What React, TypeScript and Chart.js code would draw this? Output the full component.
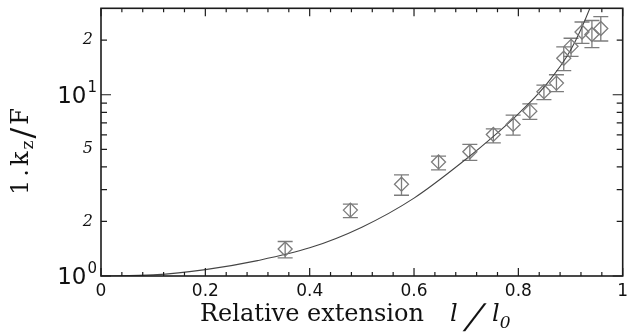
import React, { useEffect, useRef } from "react";
import { Chart, registerables } from "chart.js";

Chart.register(...registerables);

// Measured stiffness ratio against relative extension
const extension = [0.353, 0.478, 0.576, 0.647, 0.707, 0.752, 0.79, 0.822, 0.849, 0.873, 0.887, 0.901, 0.922, 0.941, 0.958];
const stiffness = [1.41, 2.31, 3.21, 4.26, 4.85, 6.04, 6.86, 8.12, 10.4, 11.6, 15.9, 18.5, 22.2, 21.5, 23.2];
const stiffnessLow = [1.26, 2.1, 2.79, 3.85, 4.35, 5.43, 5.99, 7.31, 9.41, 10.4, 13.6, 16.3, 19.2, 18.2, 19.8];
const stiffnessHigh = [1.55, 2.49, 3.61, 4.59, 5.33, 6.49, 7.72, 8.9, 11.3, 12.9, 18.4, 20.5, 25.2, 25.7, 27.0];

// Model curve
const modelX = [0, 0.1, 0.2, 0.3, 0.4, 0.5, 0.6, 0.7, 0.75, 0.8, 0.85, 0.9, 0.94, 0.955];
const modelY = [1.0, 1.014, 1.084, 1.216, 1.43, 1.86, 2.69, 4.42, 5.82, 7.85, 11.09, 17.6, 31.5, 42];

// Axes
const xMajorTicks = [0, 0.2, 0.4, 0.6, 0.8, 1];
const xTickLabels = ["0", "0.2", "0.4", "0.6", "0.8", "1"];
const xMinorStep = 0.04;
const yDecades = [1, 10];
const yDecadeExponents = ["0", "1"];
const yMinorTicks = [2, 3, 4, 5, 6, 7, 8, 9, 20];
const yMinorLabelled = [2, 5, 20];
const yMinorLabels = ["2", "5", "2"];

const AXIS = "#1c1c1c";
const TEXT = "#111111";
const MARK = "#7c7c7c";
const CURVE = "#454545";

const SANS = '"DejaVu Sans", sans-serif';
const SERIF = '"DejaVu Serif", serif';

const frameAxes = {
  id: "frameAxes",
  beforeDatasetsDraw(chart: any) {
    const { ctx, scales } = chart;
    const xs = scales.x;
    const ys = scales.y;
    ctx.save();
    ctx.strokeStyle = MARK;
    ctx.lineWidth = 1.3;
    for (let i = 0; i < extension.length; i++) {
      const px = xs.getPixelForValue(extension[i]);
      const lo = ys.getPixelForValue(stiffnessLow[i]);
      const hi = ys.getPixelForValue(stiffnessHigh[i]);
      ctx.beginPath();
      ctx.moveTo(px, lo);
      ctx.lineTo(px, hi);
      ctx.moveTo(px - 7.5, lo);
      ctx.lineTo(px + 7.5, lo);
      ctx.moveTo(px - 7.5, hi);
      ctx.lineTo(px + 7.5, hi);
      ctx.stroke();
    }
    ctx.restore();
  },
  afterDraw(chart: any) {
    const { ctx, chartArea: a, scales } = chart;
    const xs = scales.x;
    const ys = scales.y;
    ctx.save();
    ctx.strokeStyle = AXIS;
    ctx.lineWidth = 1.6;
    ctx.strokeRect(a.left, a.top, a.right - a.left, a.bottom - a.top);

    ctx.lineWidth = 1.2;
    ctx.beginPath();
    // x ticks, bottom and top
    const nMinor = Math.round(1 / xMinorStep);
    for (let k = 1; k < nMinor; k++) {
      const v = k * xMinorStep;
      if (xMajorTicks.some((m) => Math.abs(m - v) < 1e-6)) continue;
      const px = xs.getPixelForValue(v);
      ctx.moveTo(px, a.bottom);
      ctx.lineTo(px, a.bottom - 4);
      ctx.moveTo(px, a.top);
      ctx.lineTo(px, a.top + 4);
    }
    xMajorTicks.forEach((v) => {
      const px = xs.getPixelForValue(v);
      ctx.moveTo(px, a.bottom);
      ctx.lineTo(px, a.bottom - 8);
      ctx.moveTo(px, a.top);
      ctx.lineTo(px, a.top + 8);
    });
    // y ticks, left and right
    yDecades.forEach((v) => {
      const py = ys.getPixelForValue(v);
      ctx.moveTo(a.left, py);
      ctx.lineTo(a.left + 10, py);
      ctx.moveTo(a.right, py);
      ctx.lineTo(a.right - 10, py);
    });
    yMinorTicks.forEach((v) => {
      const py = ys.getPixelForValue(v);
      ctx.moveTo(a.left, py);
      ctx.lineTo(a.left + 6, py);
      ctx.moveTo(a.right, py);
      ctx.lineTo(a.right - 6, py);
    });
    ctx.stroke();

    ctx.fillStyle = TEXT;
    // x tick labels
    ctx.font = `17px ${SANS}`;
    ctx.textAlign = "center";
    ctx.textBaseline = "alphabetic";
    xMajorTicks.forEach((v, i) => {
      ctx.fillText(xTickLabels[i], xs.getPixelForValue(v), 296);
    });

    // y decade labels 10^n
    ctx.textAlign = "right";
    yDecades.forEach((v, i) => {
      const py = ys.getPixelForValue(v);
      ctx.font = `15px ${SANS}`;
      const supW = ctx.measureText(yDecadeExponents[i]).width;
      ctx.fillText(yDecadeExponents[i], 97, py - 3);
      ctx.font = `23px ${SANS}`;
      ctx.fillText("10", 97 - supW - 1, py + 8);
    });
    // y minor labels
    ctx.font = `italic 16px ${SERIF}`;
    ctx.textBaseline = "middle";
    yMinorLabelled.forEach((v, i) => {
      ctx.fillText(yMinorLabels[i], 93, ys.getPixelForValue(v));
    });

    // x title
    ctx.textAlign = "left";
    ctx.textBaseline = "alphabetic";
    const by = 321;
    ctx.font = `24px ${SERIF}`;
    ctx.fillText("Relative extension", 200, by);
    ctx.font = `italic 24px ${SERIF}`;
    ctx.fillText("l", 450, by);
    // slanted solidus
    ctx.save();
    ctx.translate(464, by + 7);
    ctx.transform(1, 0, -0.45, 1, 0, 0);
    ctx.font = `34px ${SERIF}`;
    ctx.fillText("/", 0, 0);
    ctx.restore();
    ctx.font = `italic 24px ${SERIF}`;
    ctx.fillText("l", 492, by);
    const lW = ctx.measureText("l").width;
    ctx.font = `italic 17px ${SERIF}`;
    ctx.fillText("0", 492 + lW, by + 7);

    // y title, rotated; pieces laid out along the text direction
    ctx.save();
    ctx.translate(28, 195);
    ctx.rotate(-Math.PI / 2);
    const pieces: [string, string, number, number][] = [
      ["1", `24px ${SERIF}`, 0, 3],
      [".", `24px ${SERIF}`, 0, 3],
      ["k", `24px ${SERIF}`, 0, 2],
      ["z", `17px ${SERIF}`, 5, 2],
      ["/", `32px ${SERIF}`, 5, 3],
      ["F", `24px ${SERIF}`, 0, 0],
    ];
    let tx = 0;
    pieces.forEach(([t, f, dy, gap]) => {
      ctx.font = f;
      ctx.fillText(t, tx, dy);
      tx += ctx.measureText(t).width + gap;
    });
    ctx.restore();

    ctx.restore();
  },
};

export default function App() {
  const canvasRef = useRef<HTMLCanvasElement | null>(null);

  useEffect(() => {
    const canvas = canvasRef.current;
    if (!canvas) return;
    const chart = new Chart(canvas, {
      type: "scatter",
      data: {
        datasets: [
          {
            type: "line",
            data: modelX.map((x, i) => ({ x, y: modelY[i] })),
            borderColor: CURVE,
            borderWidth: 1.1,
            pointRadius: 0,
            cubicInterpolationMode: "monotone",
            fill: false,
            order: 2,
          } as any,
          {
            data: extension.map((x, i) => ({ x, y: stiffness[i] })),
            pointStyle: "rectRot",
            pointRadius: 7,
            pointBorderWidth: 1.3,
            pointBorderColor: MARK,
            pointBackgroundColor: "rgba(0,0,0,0)",
            order: 1,
          },
        ],
      },
      options: {
        responsive: false,
        animation: false,
        devicePixelRatio: 1,
        layout: { padding: { left: 101, right: 6, top: 7, bottom: 59 } },
        plugins: { legend: { display: false }, tooltip: { enabled: false } },
        scales: {
          x: { type: "linear", min: 0, max: 1, display: false },
          y: { type: "logarithmic", min: 1, max: 30, display: false },
        },
      },
      plugins: [frameAxes],
    });
    return () => chart.destroy();
  }, []);

  return (
    <div style={{ position: "absolute", left: 0, top: 0, width: 631, height: 335, background: "#fff" }}>
      <canvas ref={canvasRef} width={631} height={335} style={{ display: "block" }} />
    </div>
  );
}
